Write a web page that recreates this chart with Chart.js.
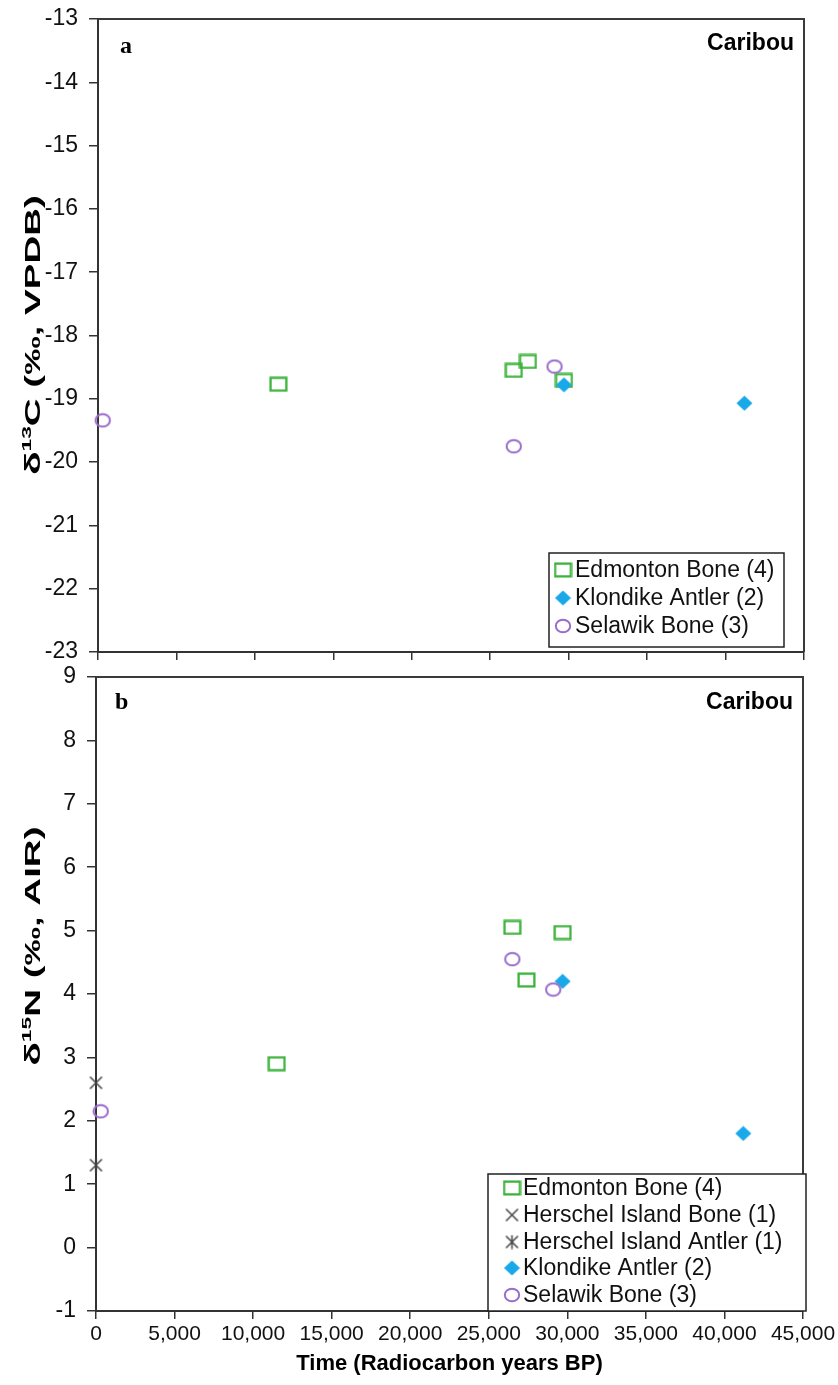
<!DOCTYPE html>
<html><head><meta charset="utf-8">
<script src="https://cdn.jsdelivr.net/npm/chart.js@4"></script>
<style>
html,body{margin:0;padding:0;background:#fff;width:838px;height:1385px;overflow:hidden}
canvas{position:absolute;left:0}
#ca{top:0}
#cb{top:665px}
</style></head><body>
<canvas id="ca" width="838" height="665"></canvas>
<canvas id="cb" width="838" height="720"></canvas>
<script>
// ---------- data ----------
const xTickValues = [0, 5000, 10000, 15000, 20000, 25000, 30000, 35000, 40000, 45000];
const carbonTicks = [-23, -22, -21, -20, -19, -18, -17, -16, -15, -14, -13];
const nitrogenTicks = [-1, 0, 1, 2, 3, 4, 5, 6, 7, 8, 9];

const edmontonYears = [11500, 26500, 27400, 29700];
const edmontonC13 = [-18.77, -18.55, -18.41, -18.71];
const edmontonN15 = [2.9, 5.05, 4.22, 4.97];

const herschelBoneYears = [0];
const herschelBoneN15 = [2.6];
const herschelAntlerYears = [0];
const herschelAntlerN15 = [1.3];

const klondikeYears = [29700, 41200];
const klondikeC13 = [-18.78, -19.07];
const klondikeN15 = [4.2, 1.8];

const selawikYears = [300, 26500, 29100];
const selawikC13 = [-19.34, -19.75, -18.49];
const selawikN15 = [2.15, 4.55, 4.07];

const labelsA = ['Edmonton Bone (4)', 'Klondike Antler (2)', 'Selawik Bone (3)'];
const labelsB = ['Edmonton Bone (4)', 'Herschel Island Bone (1)', 'Herschel Island Antler (1)', 'Klondike Antler (2)', 'Selawik Bone (3)'];

// ---------- marker images ----------
function mk(w, h, fn) { const c = document.createElement('canvas'); c.width = w; c.height = h; fn(c.getContext('2d')); return c; }
const squareImg = mk(19, 16, g => { g.strokeStyle = '#3cb43c'; g.lineWidth = 2.3; g.strokeRect(1.6, 1.6, 15.8, 12.8); });
const circleImg = mk(18, 16, g => { g.strokeStyle = '#9a6ccc'; g.lineWidth = 2; g.beginPath(); g.ellipse(9, 8, 7.2, 6.2, 0, 0, Math.PI * 2); g.stroke(); });
const diamondImg = mk(17, 16, g => { g.fillStyle = '#1aa9e8'; g.beginPath(); g.moveTo(8.5, 0.5); g.lineTo(16.5, 8); g.lineTo(8.5, 15.5); g.lineTo(0.5, 8); g.closePath(); g.fill(); });
const crossImg = mk(15, 15, g => { g.strokeStyle = '#454545'; g.lineWidth = 1.5; g.beginPath(); g.moveTo(1.5, 1.5); g.lineTo(13.5, 13.5); g.moveTo(13.5, 1.5); g.lineTo(1.5, 13.5); g.stroke(); });
const starImg = mk(15, 15, g => { g.strokeStyle = '#454545'; g.lineWidth = 1.5; g.beginPath(); g.moveTo(1.5, 1.5); g.lineTo(13.5, 13.5); g.moveTo(13.5, 1.5); g.lineTo(1.5, 13.5); g.moveTo(7.5, 0.5); g.lineTo(7.5, 14.5); g.stroke(); });

const pts = (xs, ys) => xs.map((x, i) => ({x: x, y: ys[i]}));
const FONT = "'Liberation Sans', Arial, sans-serif";

// ---------- plugins ----------
const frame = {
  id: 'frame',
  afterDraw(chart) {
    const a = chart.chartArea, g = chart.ctx;
    g.save(); g.strokeStyle = '#3a3a3a'; g.lineWidth = 2;
    g.beginPath(); g.moveTo(a.left, a.top); g.lineTo(a.right, a.top); g.lineTo(a.right, a.bottom); g.stroke();
    g.restore();
  }
};
const annot = {
  id: 'annot',
  afterDraw(chart, args, o) {
    const g = chart.ctx; g.save();
    g.fillStyle = '#000'; g.textBaseline = 'alphabetic';
    g.font = "bold 24px 'Liberation Serif', 'Times New Roman', serif"; g.textAlign = 'left';
    g.fillText(o.letter, o.letterX, o.letterY);
    g.font = 'bold 23px ' + FONT; g.textAlign = 'right';
    g.fillText(o.corner, o.cornerX, o.cornerY);
    // y title with superscript (stretched along its length like the reference)
    g.translate(o.titleX, o.titleY); g.rotate(-Math.PI / 2); g.scale(o.stretch, 1);
    const big = 'bold ' + o.titleSize + 'px ' + FONT, small = 'bold ' + Math.round(o.titleSize * 0.6) + 'px ' + FONT;
    let total = 0;
    o.parts.forEach(p => { g.font = p.sup ? small : big; total += g.measureText(p.t).width; });
    let x = -total / 2; g.textAlign = 'left';
    o.parts.forEach(p => { g.font = p.sup ? small : big; g.fillText(p.t, x, p.sup ? -1 : o.titleSize * 0.36); x += g.measureText(p.t).width; });
    g.restore();
  }
};
const boxLegend = {
  id: 'boxLegend',
  afterDraw(chart, args, o) {
    const g = chart.ctx; g.save();
    const [l, t, r, b] = o.box;
    g.fillStyle = '#fff'; g.fillRect(l, t, r - l, b - t);
    g.strokeStyle = '#222'; g.lineWidth = 1.5; g.strokeRect(l, t, r - l, b - t);
    g.beginPath(); g.rect(l, t, r - l, b - t); g.clip();
    g.font = o.size + 'px ' + FONT; g.fillStyle = '#111'; g.textBaseline = 'middle'; g.textAlign = 'left';
    chart.data.datasets.forEach((ds, i) => {
      const y = o.rows[i], img = ds.pointStyle;
      g.drawImage(img, o.markerX - img.width / 2, y - img.height / 2);
      g.fillText(ds.label, o.textX, y + 1);
    });
    g.restore();
  }
};

function xScale(showLabels, height) {
  return {
    type: 'linear', min: 0, max: 45000,
    afterBuildTicks: s => { s.ticks = xTickValues.map(v => ({value: v})); },
    afterFit: s => { s.height = height; s.paddingLeft = 0; s.paddingRight = 0; },
    grid: {drawOnChartArea: false, drawTicks: true, tickLength: 8, color: '#333', lineWidth: 1.5},
    border: {display: true, color: '#333', width: 2},
    ticks: {display: showLabels, maxRotation: 0, autoSkip: false, padding: 3, color: '#111',
      font: {family: FONT, size: 21}, callback: v => v.toLocaleString('en-US')},
    title: {display: showLabels, text: 'Time (Radiocarbon years BP)', color: '#000',
      font: {family: FONT, size: 22, weight: 'bold'}, padding: {top: 0, bottom: 8}}
  };
}
function yScale(ticks, width) {
  return {
    type: 'linear', min: ticks[0], max: ticks[ticks.length - 1],
    afterBuildTicks: s => { s.ticks = ticks.map(v => ({value: v})); },
    afterFit: s => { s.width = width; s.paddingTop = 0; s.paddingBottom = 0; },
    grid: {drawOnChartArea: false, drawTicks: true, tickLength: 9, color: '#333', lineWidth: 1.5},
    border: {display: true, color: '#333', width: 2},
    ticks: {padding: 11, color: '#111', font: {family: FONT, size: 23}, callback: v => String(v)}
  };
}
Chart.defaults.animation = false;

new Chart(document.getElementById('ca'), {
  type: 'scatter',
  data: {datasets: [
    {label: labelsA[0], data: pts(edmontonYears, edmontonC13), pointStyle: squareImg, order: 3, clip: false},
    {label: labelsA[1], data: pts(klondikeYears, klondikeC13), pointStyle: diamondImg, order: 2, clip: false},
    {label: labelsA[2], data: pts(selawikYears, selawikC13), pointStyle: circleImg, order: 1, clip: false}
  ]},
  options: {
    responsive: false, devicePixelRatio: 1,
    layout: {padding: {top: 19, right: 34, left: 0, bottom: 0}},
    scales: {x: xScale(false, 13), y: yScale(carbonTicks, 98)},
    plugins: {
      legend: {display: false}, tooltip: {enabled: false},
      annot: {letter: 'a', letterX: 120, letterY: 53, corner: 'Caribou', cornerX: 794, cornerY: 50,
        titleX: 32, titleY: 335, titleSize: 22, stretch: 1.75,
        parts: [{t: 'δ'}, {t: '13', sup: true}, {t: 'C (‰, VPDB)'}]},
      boxLegend: {box: [549, 553, 784, 647], rows: [570, 598, 626], markerX: 563, textX: 575, size: 23}
    }
  },
  plugins: [frame, annot, boxLegend]
});

new Chart(document.getElementById('cb'), {
  type: 'scatter',
  data: {datasets: [
    {label: labelsB[0], data: pts(edmontonYears, edmontonN15), pointStyle: squareImg, order: 5, clip: false},
    {label: labelsB[1], data: pts(herschelBoneYears, herschelBoneN15), pointStyle: crossImg, order: 4, clip: false},
    {label: labelsB[2], data: pts(herschelAntlerYears, herschelAntlerN15), pointStyle: starImg, order: 3, clip: false},
    {label: labelsB[3], data: pts(klondikeYears, klondikeN15), pointStyle: diamondImg, order: 2, clip: false},
    {label: labelsB[4], data: pts(selawikYears, selawikN15), pointStyle: circleImg, order: 1, clip: false}
  ]},
  options: {
    responsive: false, devicePixelRatio: 1,
    layout: {padding: {top: 12, right: 35, left: 0, bottom: 0}},
    scales: {x: xScale(true, 74), y: yScale(nitrogenTicks, 96)},
    plugins: {
      legend: {display: false}, tooltip: {enabled: false},
      annot: {letter: 'b', letterX: 115, letterY: 44, corner: 'Caribou', cornerX: 793, cornerY: 44,
        titleX: 32, titleY: 281, titleSize: 22, stretch: 1.75,
        parts: [{t: 'δ'}, {t: '15', sup: true}, {t: 'N (‰, AIR)'}]},
      boxLegend: {box: [488, 509, 806, 646], rows: [523, 550, 577, 603, 630], markerX: 512, textX: 523, size: 23}
    }
  },
  plugins: [frame, annot, boxLegend]
});
</script>
</body></html>
